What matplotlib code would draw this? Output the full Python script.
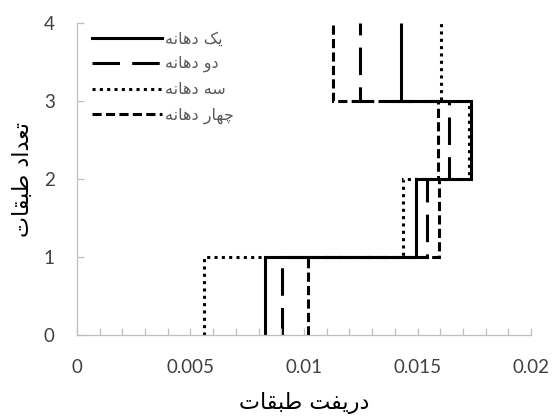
import matplotlib
matplotlib.use("Agg")
import matplotlib.pyplot as plt
import numpy as np

# story drift per storey (storey 1 at the bottom)
stories = [0, 1, 2, 3, 4]
drift_1bay = [0.00828, 0.01493, 0.01734, 0.01427]
drift_2bay = [0.00902, 0.01541, 0.01640, 0.01247]
drift_3bay = [0.00561, 0.01438, 0.01726, 0.01602]
drift_4bay = [0.01016, 0.01596, 0.01592, 0.01129]

labels = ["یک دهانه", "دو دهانه", "سه دهانه", "چهار دهانه"]
xlabel = "دریفت طبقات"
ylabel = "تعداد طبقات"

# matplotlib has no arabic shaping, so pick presentation forms by hand
# (isolated, final, initial, medial)
FORMS = {
    'ا': ('\uFE8D', '\uFE8E', None, None),
    'د': ('\uFEA9', '\uFEAA', None, None),
    'ر': ('\uFEAD', '\uFEAE', None, None),
    'و': ('\uFEED', '\uFEEE', None, None),
    'ب': ('\uFE8F', '\uFE90', '\uFE91', '\uFE92'),
    'ت': ('\uFE95', '\uFE96', '\uFE97', '\uFE98'),
    'س': ('\uFEB1', '\uFEB2', '\uFEB3', '\uFEB4'),
    'ط': ('\uFEC1', '\uFEC2', '\uFEC3', '\uFEC4'),
    'ع': ('\uFEC9', '\uFECA', '\uFECB', '\uFECC'),
    'ف': ('\uFED1', '\uFED2', '\uFED3', '\uFED4'),
    'ق': ('\uFED5', '\uFED6', '\uFED7', '\uFED8'),
    'ن': ('\uFEE5', '\uFEE6', '\uFEE7', '\uFEE8'),
    'ه': ('\uFEE9', '\uFEEA', '\uFEEB', '\uFEEC'),
    'ی': ('\uFBFC', '\uFBFD', '\uFBFE', '\uFBFF'),
    'ک': ('\uFB8E', '\uFB8F', '\uFB90', '\uFB91'),
    'چ': ('\uFB7A', '\uFB7B', '\uFB7C', '\uFB7D'),
}


def shape(text):
    out = []
    for i, ch in enumerate(text):
        if ch not in FORMS:
            out.append(ch)
            continue
        prev = text[i - 1] if i > 0 else ''
        nxt = text[i + 1] if i + 1 < len(text) else ''
        join_prev = prev in FORMS and FORMS[prev][2] is not None
        join_next = FORMS[ch][2] is not None and nxt in FORMS
        iso, fin, ini, med = FORMS[ch]
        if join_prev and join_next:
            out.append(med)
        elif join_prev:
            out.append(fin)
        elif join_next:
            out.append(ini)
        else:
            out.append(iso)
    return ''.join(reversed(out))


plt.rcParams['font.family'] = ['Lato', 'DejaVu Sans']

fig = plt.figure(figsize=(5.55, 4.18), dpi=100)
ax = fig.add_axes([0.1387, 0.1986, 0.8181, 0.7452])

series = [drift_1bay, drift_2bay, drift_3bay, drift_4bay]
styles = ['-', (0, (9, 4)), (0, (1, 1.4)), (0, (3, 1.4))]
for d, ls, lab in zip(series, styles, labels):
    ax.stairs(d, stories, orientation='horizontal', baseline=None,
              color='black', linestyle=ls, linewidth=2.2, label=shape(lab))

ax.set_xlim(0, 0.02)
ax.set_ylim(0, 4)
ax.set_xticks([0, 0.005, 0.01, 0.015, 0.02])
ax.set_xticklabels(['0', '0.005', '0.01', '0.015', '0.02'])
ax.set_xticks(np.arange(0, 0.0201, 0.001), minor=True)
ax.set_yticks(stories)

for s in ['top', 'right']:
    ax.spines[s].set_visible(False)
for s in ['left', 'bottom']:
    ax.spines[s].set_color('#bfbfbf')
    ax.spines[s].set_linewidth(0.9)

ax.tick_params(which='both', direction='in', length=5, width=0.9, color='#bfbfbf')
ax.tick_params(axis='both', labelsize=13.5, labelcolor='#404040', pad=16)
ax.tick_params(axis='x', pad=17)

ax.set_xlabel(shape(xlabel), fontsize=16, family='DejaVu Sans', labelpad=12)
ax.set_ylabel(shape(ylabel), fontsize=16, family='DejaVu Sans', labelpad=8)

leg = ax.legend(loc='upper left', bbox_to_anchor=(0.033, 0.975), frameon=False,
                borderpad=0, borderaxespad=0, handlelength=4.4, handletextpad=0.2,
                labelspacing=0.62, prop={'family': 'DejaVu Sans', 'size': 11.5})
for t in leg.get_texts():
    t.set_color('#595959')

fig.savefig('out.png', dpi=100)
